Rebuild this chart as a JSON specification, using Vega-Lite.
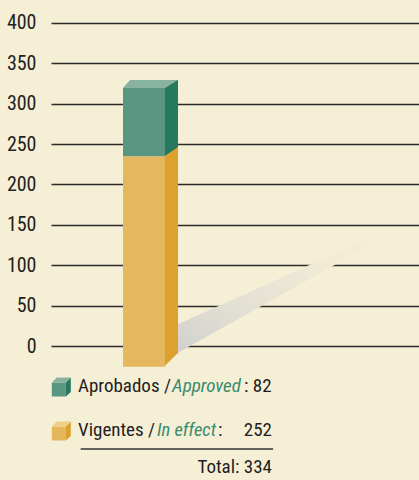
{
  "$schema": "https://vega.github.io/schema/vega-lite/v6.json",
  "width": 368,
  "height": 480,
  "autosize": {"type": "none"},
  "padding": {"left": 51, "top": 0, "right": 0, "bottom": 0},
  "background": "#f5efd6",
  "config": {
    "view": {"stroke": null},
    "font": "Roboto Condensed, Liberation Sans Narrow, Arial Narrow, DejaVu Sans Condensed, sans-serif",
    "text": {"font": "Roboto Condensed, Liberation Sans Narrow, Arial Narrow, DejaVu Sans Condensed, sans-serif"},
    "axis": {"labelFontSize": 20, "labelFont": "Roboto Condensed, Liberation Sans Narrow, Arial Narrow, DejaVu Sans Condensed, sans-serif"},
    "axisY": {"labelFontSize": 20}
  },
  "datasets": {
    "leyes": [
      {"grupo": "Leyes", "serie": "Aprobados", "en": "Approved", "valor": 82},
      {"grupo": "Leyes", "serie": "Vigentes", "en": "In effect", "valor": 252}
    ]
  },
  "data": {"name": "leyes"},
  "transform": [
    {"stack": "valor", "groupby": ["grupo"], "sort": [{"field": "serie", "order": "descending"}], "as": ["v0", "v1"]}
  ],
  "encoding": {
    "x": {"field": "grupo", "type": "nominal", "axis": null,
          "scale": {"paddingInner": 0.7423, "paddingOuter": 1, "align": 0.22086}}
  },
  "layer": [
    {
      "layer": [
        {
          "transform": [{"filter": "datum.serie == 'Vigentes'"}],
          "mark": {"type": "point", "filled": true, "opacity": 1, "size": 4,
                   "shape": "M 30 9 L 30 -20 L 241 -115 L 244 -111 Z",
                   "fill": {"gradient": "linear", "x1": 0, "y1": 1, "x2": 1, "y2": 0,
                            "stops": [{"offset": 0, "color": "#d0d0cd"}, {"offset": 0.35, "color": "#e3e0d4"}, {"offset": 0.75, "color": "#f2ecd6"}, {"offset": 1, "color": "#f5efd6"}]}},
          "encoding": {
            "y": {"field": "v0", "type": "quantitative",
                  "scale": {"domain": [-165.94, 428.48], "nice": false, "zero": false},
                  "axis": {"values": [0, 50, 100, 150, 200, 250, 300, 350, 400], "title": null,
                           "domain": false, "ticks": false, "grid": true, "gridColor": "#2a2a2a", "gridWidth": 1.4,
                           "labelFontSize": 20, "labelColor": "#222222", "labelPadding": 15}}
          }
        }
      ]
    },
    {
      "layer": [
        {
          "mark": {"type": "bar", "width": 13, "xOffset": 27.5},
          "encoding": {
            "y": {"field": "v0", "type": "quantitative",
                  "scale": {"domain": [-154.83, 431.77], "nice": false, "zero": false}, "axis": null},
            "y2": {"field": "v1"},
            "color": {"field": "serie", "type": "nominal", "legend": null,
                      "scale": {"domain": ["Aprobados", "Vigentes"], "range": ["#25795f", "#dca12f"]}}
          }
        },
        {
          "transform": [{"filter": "datum.serie == 'Vigentes'"}],
          "mark": {"type": "point", "filled": true, "opacity": 1, "size": 4, "color": "#25795f",
                   "shape": "M 20 0 L 34 0 L 20 9.5 Z"},
          "encoding": {"y": {"field": "v1", "type": "quantitative"}}
        },
        {
          "transform": [{"filter": "datum.serie == 'Vigentes'"}],
          "mark": {"type": "point", "filled": true, "opacity": 1, "size": 4, "color": "#dca12f",
                   "shape": "M 20 -0.5 L 34 -0.5 L 20 13.4 Z"},
          "encoding": {"y": {"field": "v0", "type": "quantitative"}}
        }
      ]
    },
    {
      "layer": [
        {
          "mark": {"type": "bar"},
          "encoding": {
            "y": {"field": "v0", "type": "quantitative",
                  "scale": {"domain": [-135.79, 439.46], "nice": false, "zero": false}, "axis": null},
            "y2": {"field": "v1"},
            "color": {"field": "serie", "type": "nominal", "legend": null,
                      "scale": {"domain": ["Aprobados", "Vigentes"], "range": ["#5a9682", "#e5b75f"]}}
          }
        },
        {
          "transform": [{"filter": "datum.serie == 'Aprobados'"}],
          "mark": {"type": "point", "filled": true, "opacity": 1, "size": 4, "color": "#88b3a0",
                   "shape": "M -21 0 L 21 0 L 34 -8 L -14 -8 Z"},
          "encoding": {"y": {"field": "v1", "type": "quantitative"}}
        }
      ]
    },
    {
      "encoding": {
        "y": {"field": "serie", "type": "nominal", "axis": null,
              "scale": {"domain": ["Aprobados", "Vigentes"], "range": [392, 436], "padding": 0}}
      },
      "layer": [
        {
          "mark": {"type": "point", "filled": true, "opacity": 1, "size": 4, "xOffset": -82.7, "yOffset": -5,
                   "shape": "M -9.5 -4.5 L 4.5 -4.5 L 4.5 9.5 L -9.5 9.5 Z"},
          "encoding": {"color": {"field": "serie", "type": "nominal", "legend": null,
                      "scale": {"domain": ["Aprobados", "Vigentes"], "range": ["#5a9682", "#e6b65c"]}}}
        },
        {
          "mark": {"type": "point", "filled": true, "opacity": 1, "size": 4, "xOffset": -82.7, "yOffset": -5,
                   "shape": "M 4.5 -4.5 L 9.5 -9.5 L 9.5 5 L 4.5 9.5 Z"},
          "encoding": {"color": {"field": "serie", "type": "nominal", "legend": null,
                      "scale": {"domain": ["Aprobados", "Vigentes"], "range": ["#25795f", "#dca02c"]}}}
        },
        {
          "mark": {"type": "point", "filled": true, "opacity": 1, "size": 4, "xOffset": -82.7, "yOffset": -5,
                   "shape": "M -9.5 -4.5 L -4.5 -9.5 L 9.5 -9.5 L 4.5 -4.5 Z"},
          "encoding": {"color": {"field": "serie", "type": "nominal", "legend": null,
                      "scale": {"domain": ["Aprobados", "Vigentes"], "range": ["#86b29f", "#efcf85"]}}}
        },
        {
          "transform": [{"calculate": "datum.serie + ' /'", "as": "es"}],
          "mark": {"type": "text", "align": "left", "baseline": "alphabetic", "fontSize": 19, "color": "#1e1e1e", "xOffset": -66},
          "encoding": {"text": {"field": "es"}}
        },
        {
          "transform": [{"filter": "datum.serie == 'Aprobados'"}],
          "mark": {"type": "text", "align": "left", "baseline": "alphabetic", "fontSize": 19, "fontStyle": "italic", "color": "#3b8a6c", "xOffset": 28},
          "encoding": {"text": {"field": "en"}}
        },
        {
          "transform": [{"filter": "datum.serie == 'Aprobados'"}, {"calculate": "': ' + datum.valor", "as": "num"}],
          "mark": {"type": "text", "align": "left", "baseline": "alphabetic", "fontSize": 19, "color": "#1e1e1e", "xOffset": 100},
          "encoding": {"text": {"field": "num"}}
        },
        {
          "transform": [{"filter": "datum.serie == 'Vigentes'"}],
          "mark": {"type": "text", "align": "left", "baseline": "alphabetic", "fontSize": 18.5, "fontStyle": "italic", "color": "#3b8a6c", "xOffset": 13},
          "encoding": {"text": {"field": "en"}}
        },
        {
          "transform": [{"filter": "datum.serie == 'Vigentes'"}],
          "mark": {"type": "text", "align": "left", "baseline": "alphabetic", "fontSize": 19, "color": "#1e1e1e", "xOffset": 74, "text": ":"},
          "encoding": {}
        },
        {
          "transform": [{"filter": "datum.serie == 'Vigentes'"}],
          "mark": {"type": "text", "align": "right", "baseline": "alphabetic", "fontSize": 19, "color": "#1e1e1e", "xOffset": 128},
          "encoding": {"text": {"field": "valor"}}
        },
        {
          "transform": [{"filter": "datum.serie == 'Vigentes'"}],
          "mark": {"type": "point", "filled": false, "opacity": 1, "size": 4, "xOffset": 32.9, "yOffset": 13,
                   "stroke": "#333333", "strokeWidth": 1.5, "shape": "M -96.2 0 L 96.2 0"},
          "encoding": {}
        },
        {
          "transform": [
            {"joinaggregate": [{"op": "sum", "field": "valor", "as": "total"}]},
            {"filter": "datum.serie == 'Vigentes'"},
            {"calculate": "'Total: ' + datum.total", "as": "txt"}
          ],
          "mark": {"type": "text", "align": "right", "baseline": "alphabetic", "fontSize": 19, "color": "#1e1e1e", "xOffset": 128, "yOffset": 37},
          "encoding": {"text": {"field": "txt"}}
        }
      ],
      "resolve": {"scale": {"color": "independent"}}
    }
  ],
  "resolve": {"scale": {"y": "independent", "color": "independent"}}
}
